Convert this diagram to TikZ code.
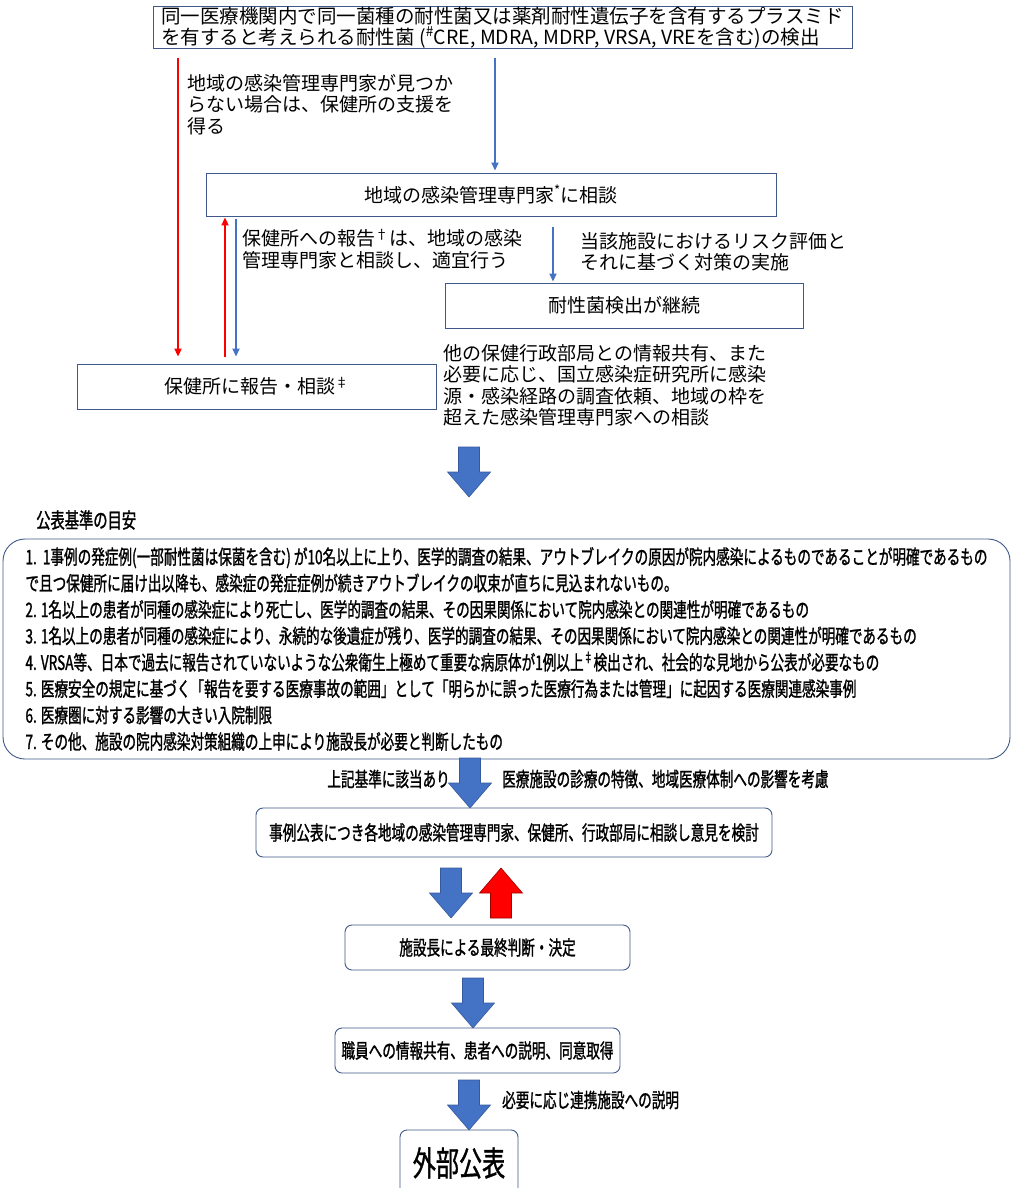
\documentclass[tikz,border=0pt]{standalone}
\usepackage{fontspec}
\setmainfont{Noto Sans CJK JP}
\newfontfamily\jpnarrow[FakeStretch=0.68, FakeBold=1.2]{Noto Sans CJK JP}
\newfontfamily\jpwide[FakeStretch=0.68, FakeBold=1]{Noto Sans CJK JP}
\usepackage{tikz}
\usetikzlibrary{arrows.meta, positioning, calc}
\definecolor{boxblue}{HTML}{3F5A8A}
\definecolor{arrblue}{HTML}{4472C4}
\definecolor{arrred}{HTML}{FF0000}

\tikzset{
  box/.style={draw=boxblue, line width=0.9pt, inner sep=1pt},
  rbox/.style={box, rounded corners=7pt},
  topfont/.style={font=\fontsize{19}{21.5}\selectfont},
  narrow/.style={font=\jpnarrow\fontsize{20}{26.4}\selectfont},
  note/.style={topfont, align=left, anchor=north west, inner sep=0pt},
  redarr/.style={-{Triangle[length=8pt,width=7pt]}, draw=arrred, line width=2.2pt},
  bluearr/.style={-{Triangle[length=8pt,width=7pt]}, draw=arrblue, line width=1.7pt},
  bigdown/.pic={\filldraw[fill=arrblue, draw=arrblue!80!black, line width=0.6pt]
    (-10.5,0) -- (10.5,0) -- (10.5,25) -- (21.5,25) -- (0,50) -- (-21.5,25) -- (-10.5,25) -- cycle;},
  bigup/.pic={\filldraw[fill=arrred, draw=arrred!60!black, line width=0.6pt]
    (-10.5,50) -- (10.5,50) -- (10.5,25) -- (21.5,25) -- (0,0) -- (-21.5,25) -- (-10.5,25) -- cycle;}
}

\begin{document}
\begin{tikzpicture}[x=1pt, y=-1pt]
  \fill[white] (0,0) rectangle (1012,1188);
  \useasboundingbox (0,0) rectangle (1012,1188);

  % upper part: report and consultation
  \node[box, font=\fontsize{19.5}{20.5}\selectfont, align=left, minimum width=699pt, minimum height=41pt] (detect) at (502.5,27.5)
    {同一医療機関内で同一菌種の耐性菌又は薬剤耐性遺伝子を含有するプラスミド\\
     を有すると考えられる耐性菌 (\textsuperscript{\#}CRE, MDRA, MDRP, VRSA, VREを含む)の検出};
  \node[box, topfont, minimum width=570pt, minimum height=43pt] (soudan) at (491,194.5)
    {地域の感染管理専門家\textsuperscript{*}に相談};
  \node[box, topfont, minimum width=358pt, minimum height=45pt] (keizoku) at (624,305.5)
    {耐性菌検出が継続};
  \node[box, topfont, minimum width=359pt, minimum height=45pt] (hoken) at (256.5,386.5)
    {保健所に報告・相談\textsuperscript{‡}};

  \node[note] (shien) at (187,74) {地域の感染管理専門家が見つか\\らない場合は、保健所の支援を\\得る};
  \node[note] (houkoku) at (242,229) {保健所への報告\textsuperscript{†}は、地域の感染\\管理専門家と相談し、適宜行う};
  \node[note] (risk) at (580,232) {当該施設におけるリスク評価と\\それに基づく対策の実施};
  \node[note] (kyouyu1) at (443,344)
    {他の保健行政部局との情報共有、また\\必要に応じ、国立感染症研究所に感染\\源・感染経路の調査依頼、地域の枠を\\超えた感染管理専門家への相談};

  \coordinate (xr1) at (178,0);
  \coordinate (xb1) at (495,0);
  \coordinate (xr2) at (225,0);
  \coordinate (xb2) at (236,0);
  \coordinate (xb3) at (553,0);
  \draw[redarr, shorten <=9pt, shorten >=7pt] (detect.south -| xr1) -- (hoken.north -| xr1);
  \draw[bluearr, shorten <=9pt, shorten >=2pt] (detect.south -| xb1) -- (soudan.north -| xb1);
  \draw[redarr, shorten <=7pt, shorten >=1pt] (hoken.north -| xr2) -- (soudan.south -| xr2);
  \draw[bluearr, shorten <=3pt, shorten >=7pt] (soudan.south -| xb2) -- (hoken.north -| xb2);
  \draw[bluearr, shorten <=11pt, shorten >=1pt] (soudan.south -| xb3) -- (keizoku.north -| xb3);

  \pic at (469,447) {bigdown};

  % criteria for publication
  \node[narrow, font=\jpnarrow\fontsize{21}{22}\selectfont, anchor=west, inner sep=0pt] (meyasu) at (36,520) {公表基準の目安};
  \node[box, rounded corners=22pt, minimum width=1007pt, minimum height=220pt,
        narrow, align=left, inner sep=4pt] (kijun) at (506.5,649)
    {1.\ \ 1事例の発症例(一部耐性菌は保菌を含む) が10名以上に上り、医学的調査の結果、アウトブレイクの原因が院内感染によるものであることが明確であるもの\\
     で且つ保健所に届け出以降も、感染症の発症症例が続きアウトブレイクの収束が直ちに見込まれないもの。\\
     2. 1名以上の患者が同種の感染症により死亡し、医学的調査の結果、その因果関係において院内感染との関連性が明確であるもの\\
     3. 1名以上の患者が同種の感染症により、永続的な後遺症が残り、医学的調査の結果、その因果関係において院内感染との関連性が明確であるもの\\
     4. VRSA等、日本で過去に報告されていないような公衆衛生上極めて重要な病原体が1例以上\textsuperscript{‡}検出され、社会的な見地から公表が必要なもの\\
     5. 医療安全の規定に基づく「報告を要する医療事故の範囲」として「明らかに誤った医療行為または管理」に起因する医療関連感染事例\\
     6. 医療圏に対する影響の大きい入院制限\\
     7. その他、施設の院内感染対策組織の上申により施設長が必要と判断したもの};

  \pic at (470,758) {bigdown};
  \node[narrow, anchor=east, inner sep=0pt] (gaitou) at (450,779) {上記基準に該当あり};
  \node[narrow, anchor=west, inner sep=0pt] (kouryo) at (502,779) {医療施設の診療の特徴、地域医療体制への影響を考慮};

  % decision flow
  \node[rbox, narrow, minimum width=516pt, minimum height=49pt] (kentou) at (514,832.5)
    {事例公表につき各地域の感染管理専門家、保健所、行政部局に相談し意見を検討};
  \pic at (451,868) {bigdown};
  \pic at (501,868) {bigup};
  \node[rbox, narrow, minimum width=285pt, minimum height=45pt] (kettei) at (487.5,947.5)
    {施設長による最終判断・決定};
  \pic at (473,978) {bigdown};
  \node[rbox, narrow, minimum width=285pt, minimum height=45pt] (setsumei) at (477.5,1050.5)
    {職員への情報共有、患者への説明、同意取得};
  \pic at (469,1080) {bigdown};
  \node[narrow, anchor=west, inner sep=0pt] (renkei) at (502,1100) {必要に応じ連携施設への説明};
  \node[rbox, font=\jpwide\fontsize{34}{36}\selectfont, minimum width=118pt, minimum height=66pt] (kouhyou) at (459,1163)
    {外部公表};
\end{tikzpicture}
\end{document}
